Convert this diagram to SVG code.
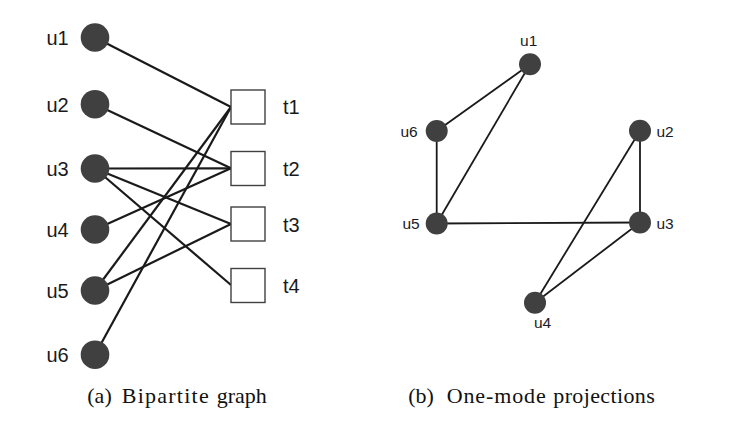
<svg xmlns="http://www.w3.org/2000/svg" width="737" height="430" viewBox="0 0 737 430">
<style>
.edge{stroke:#1a1a1a;stroke-width:2.2;fill:none}
.edge2{stroke:#1a1a1a;stroke-width:1.8;fill:none}
.user{fill:#404040}
.item{fill:#ffffff;stroke:#404040;stroke-width:1.4}
.lab{font-family:"Liberation Sans",Arial,sans-serif;font-size:20px;fill:#1a1a1a}
.lab2{font-family:"Liberation Sans",Arial,sans-serif;font-size:15.5px;fill:#1a1a2a}
.cap{font-family:"Liberation Serif","Times New Roman",serif;font-size:22px;fill:#111}
</style>
<rect width="737" height="430" fill="#ffffff"/>
<g id="connectors">
<line class="edge" x1="95" y1="37.5" x2="231" y2="107"/>
<line class="edge" x1="95" y1="104.2" x2="231" y2="168.3"/>
<line class="edge" x1="95" y1="168.5" x2="231" y2="168.3"/>
<line class="edge" x1="95" y1="168.5" x2="231" y2="224"/>
<line class="edge" x1="95" y1="168.5" x2="231" y2="285"/>
<line class="edge" x1="95" y1="229.5" x2="231" y2="168.3"/>
<line class="edge" x1="95" y1="290.5" x2="231" y2="107"/>
<line class="edge" x1="95" y1="290.5" x2="231" y2="224"/>
<line class="edge" x1="95" y1="354.7" x2="231" y2="107"/>
<line class="edge2" x1="530" y1="64.3" x2="436.7" y2="131"/>
<line class="edge2" x1="530" y1="64.3" x2="436.7" y2="223.5"/>
<line class="edge2" x1="436.7" y1="131" x2="436.7" y2="223.5"/>
<line class="edge2" x1="436.7" y1="223.5" x2="640" y2="222.5"/>
<line class="edge2" x1="640" y1="130.7" x2="640" y2="222.5"/>
<line class="edge2" x1="640" y1="130.7" x2="535" y2="302.7"/>
<line class="edge2" x1="640" y1="222.5" x2="535" y2="302.7"/>
</g>
<g id="bip-u1"><circle class="user" cx="95" cy="37.5" r="14.3"/><text class="lab" x="46.5" y="45">u1</text></g>
<g id="bip-u2"><circle class="user" cx="95" cy="104.2" r="14.3"/><text class="lab" x="46.5" y="111.5">u2</text></g>
<g id="bip-u3"><circle class="user" cx="95" cy="168.5" r="14.3"/><text class="lab" x="46.5" y="176">u3</text></g>
<g id="bip-u4"><circle class="user" cx="95" cy="229.5" r="14.3"/><text class="lab" x="46.5" y="237">u4</text></g>
<g id="bip-u5"><circle class="user" cx="95" cy="290.5" r="14.3"/><text class="lab" x="46.5" y="298">u5</text></g>
<g id="bip-u6"><circle class="user" cx="95" cy="354.7" r="14.3"/><text class="lab" x="46.5" y="362">u6</text></g>
<g id="bip-t1"><rect class="item" x="231" y="90" width="34" height="34"/><text class="lab" x="283" y="114">t1</text></g>
<g id="bip-t2"><rect class="item" x="231" y="151.5" width="34" height="34"/><text class="lab" x="283" y="176">t2</text></g>
<g id="bip-t3"><rect class="item" x="231" y="207" width="34" height="34"/><text class="lab" x="283" y="231.5">t3</text></g>
<g id="bip-t4"><rect class="item" x="231" y="268.5" width="34" height="34"/><text class="lab" x="283" y="293">t4</text></g>
<g id="proj-u1"><circle class="user" cx="530" cy="64.3" r="11"/><text class="lab2" x="528.7" y="45.7" text-anchor="middle">u1</text></g>
<g id="proj-u6"><circle class="user" cx="436.7" cy="131" r="11"/><text class="lab2" x="400.5" y="136.7">u6</text></g>
<g id="proj-u5"><circle class="user" cx="436.7" cy="223.5" r="11"/><text class="lab2" x="402.5" y="229">u5</text></g>
<g id="proj-u2"><circle class="user" cx="640" cy="130.7" r="11"/><text class="lab2" x="656.5" y="137">u2</text></g>
<g id="proj-u3"><circle class="user" cx="640" cy="222.5" r="11"/><text class="lab2" x="656.5" y="229">u3</text></g>
<g id="proj-u4"><circle class="user" cx="535" cy="302.7" r="11"/><text class="lab2" x="542.5" y="328.3" text-anchor="middle">u4</text></g>
<text class="cap" y="402.5"><tspan x="87.3">(a)</tspan><tspan x="121.7" textLength="87" lengthAdjust="spacing">Bipartite</tspan><tspan x="216.7">graph</tspan></text>
<text class="cap" y="402.5"><tspan x="408.3">(b)</tspan><tspan x="446.7" textLength="99" lengthAdjust="spacing">One-mode</tspan><tspan x="553.3" textLength="101.5" lengthAdjust="spacing">projections</tspan></text>
</svg>
